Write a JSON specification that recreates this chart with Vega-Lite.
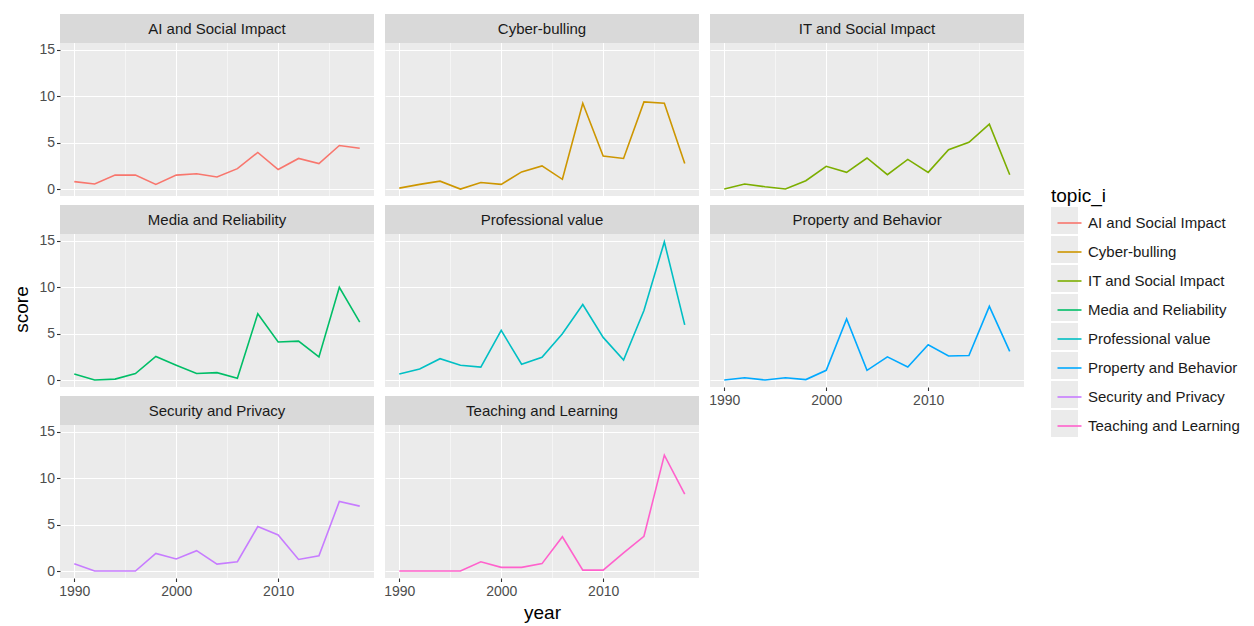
{
  "$schema": "https://vega.github.io/schema/vega-lite/v6.json",
  "background": "white",
  "padding": {"left": 12, "top": 14, "right": 0, "bottom": 0},
  "config": {
    "font": "Liberation Sans",
    "view": {"fill": "#EBEBEB", "stroke": null},
    "axis": {"domain": false, "tickColor": "#333333", "tickSize": 3.5, "tickWidth": 1.1, "labelColor": "#4D4D4D", "labelFontSize": 14, "labelFont": "Liberation Sans", "gridColor": "#FFFFFF", "titleFont": "Liberation Sans", "titleFontWeight": "normal", "titleFontSize": 19, "titleColor": "#000000", "labelPadding": 2},
    "axisX": {"labelPadding": 3}
  },
  "data": {"values": [
    {"topic": "AI and Social Impact", "year": 1990, "score": 0.8},
    {"topic": "AI and Social Impact", "year": 1992, "score": 0.55},
    {"topic": "AI and Social Impact", "year": 1994, "score": 1.5},
    {"topic": "AI and Social Impact", "year": 1996, "score": 1.5},
    {"topic": "AI and Social Impact", "year": 1998, "score": 0.5},
    {"topic": "AI and Social Impact", "year": 2000, "score": 1.5},
    {"topic": "AI and Social Impact", "year": 2002, "score": 1.65},
    {"topic": "AI and Social Impact", "year": 2004, "score": 1.3},
    {"topic": "AI and Social Impact", "year": 2006, "score": 2.2},
    {"topic": "AI and Social Impact", "year": 2008, "score": 3.95},
    {"topic": "AI and Social Impact", "year": 2010, "score": 2.1},
    {"topic": "AI and Social Impact", "year": 2012, "score": 3.3},
    {"topic": "AI and Social Impact", "year": 2014, "score": 2.75},
    {"topic": "AI and Social Impact", "year": 2016, "score": 4.7},
    {"topic": "AI and Social Impact", "year": 2018, "score": 4.4},
    {"topic": "Cyber-bulling", "year": 1990, "score": 0.1},
    {"topic": "Cyber-bulling", "year": 1992, "score": 0.5},
    {"topic": "Cyber-bulling", "year": 1994, "score": 0.85},
    {"topic": "Cyber-bulling", "year": 1996, "score": 0},
    {"topic": "Cyber-bulling", "year": 1998, "score": 0.7},
    {"topic": "Cyber-bulling", "year": 2000, "score": 0.5},
    {"topic": "Cyber-bulling", "year": 2002, "score": 1.85},
    {"topic": "Cyber-bulling", "year": 2004, "score": 2.5},
    {"topic": "Cyber-bulling", "year": 2006, "score": 1.05},
    {"topic": "Cyber-bulling", "year": 2008, "score": 9.25},
    {"topic": "Cyber-bulling", "year": 2010, "score": 3.55},
    {"topic": "Cyber-bulling", "year": 2012, "score": 3.3},
    {"topic": "Cyber-bulling", "year": 2014, "score": 9.4},
    {"topic": "Cyber-bulling", "year": 2016, "score": 9.25},
    {"topic": "Cyber-bulling", "year": 2018, "score": 2.75},
    {"topic": "IT and Social Impact", "year": 1990, "score": 0},
    {"topic": "IT and Social Impact", "year": 1992, "score": 0.55},
    {"topic": "IT and Social Impact", "year": 1994, "score": 0.25},
    {"topic": "IT and Social Impact", "year": 1996, "score": 0},
    {"topic": "IT and Social Impact", "year": 1998, "score": 0.9},
    {"topic": "IT and Social Impact", "year": 2000, "score": 2.45},
    {"topic": "IT and Social Impact", "year": 2002, "score": 1.8},
    {"topic": "IT and Social Impact", "year": 2004, "score": 3.35},
    {"topic": "IT and Social Impact", "year": 2006, "score": 1.55},
    {"topic": "IT and Social Impact", "year": 2008, "score": 3.2},
    {"topic": "IT and Social Impact", "year": 2010, "score": 1.8},
    {"topic": "IT and Social Impact", "year": 2012, "score": 4.25},
    {"topic": "IT and Social Impact", "year": 2014, "score": 5.05},
    {"topic": "IT and Social Impact", "year": 2016, "score": 7.0},
    {"topic": "IT and Social Impact", "year": 2018, "score": 1.55},
    {"topic": "Media and Reliability", "year": 1990, "score": 0.65},
    {"topic": "Media and Reliability", "year": 1992, "score": 0},
    {"topic": "Media and Reliability", "year": 1994, "score": 0.1},
    {"topic": "Media and Reliability", "year": 1996, "score": 0.7},
    {"topic": "Media and Reliability", "year": 1998, "score": 2.55},
    {"topic": "Media and Reliability", "year": 2000, "score": 1.6},
    {"topic": "Media and Reliability", "year": 2002, "score": 0.7},
    {"topic": "Media and Reliability", "year": 2004, "score": 0.8},
    {"topic": "Media and Reliability", "year": 2006, "score": 0.2},
    {"topic": "Media and Reliability", "year": 2008, "score": 7.15},
    {"topic": "Media and Reliability", "year": 2010, "score": 4.1},
    {"topic": "Media and Reliability", "year": 2012, "score": 4.2},
    {"topic": "Media and Reliability", "year": 2014, "score": 2.5},
    {"topic": "Media and Reliability", "year": 2016, "score": 10.0},
    {"topic": "Media and Reliability", "year": 2018, "score": 6.25},
    {"topic": "Professional value", "year": 1990, "score": 0.65},
    {"topic": "Professional value", "year": 1992, "score": 1.2},
    {"topic": "Professional value", "year": 1994, "score": 2.3},
    {"topic": "Professional value", "year": 1996, "score": 1.6},
    {"topic": "Professional value", "year": 1998, "score": 1.4},
    {"topic": "Professional value", "year": 2000, "score": 5.35},
    {"topic": "Professional value", "year": 2002, "score": 1.7},
    {"topic": "Professional value", "year": 2004, "score": 2.45},
    {"topic": "Professional value", "year": 2006, "score": 5.0},
    {"topic": "Professional value", "year": 2008, "score": 8.15},
    {"topic": "Professional value", "year": 2010, "score": 4.6},
    {"topic": "Professional value", "year": 2012, "score": 2.15},
    {"topic": "Professional value", "year": 2014, "score": 7.5},
    {"topic": "Professional value", "year": 2016, "score": 14.9},
    {"topic": "Professional value", "year": 2018, "score": 5.95},
    {"topic": "Property and Behavior", "year": 1990, "score": 0},
    {"topic": "Property and Behavior", "year": 1992, "score": 0.25},
    {"topic": "Property and Behavior", "year": 1994, "score": 0},
    {"topic": "Property and Behavior", "year": 1996, "score": 0.25},
    {"topic": "Property and Behavior", "year": 1998, "score": 0.05},
    {"topic": "Property and Behavior", "year": 2000, "score": 1.05},
    {"topic": "Property and Behavior", "year": 2002, "score": 6.6},
    {"topic": "Property and Behavior", "year": 2004, "score": 1.05},
    {"topic": "Property and Behavior", "year": 2006, "score": 2.5},
    {"topic": "Property and Behavior", "year": 2008, "score": 1.4},
    {"topic": "Property and Behavior", "year": 2010, "score": 3.8},
    {"topic": "Property and Behavior", "year": 2012, "score": 2.6},
    {"topic": "Property and Behavior", "year": 2014, "score": 2.65},
    {"topic": "Property and Behavior", "year": 2016, "score": 7.95},
    {"topic": "Property and Behavior", "year": 2018, "score": 3.1},
    {"topic": "Security and Privacy", "year": 1990, "score": 0.8},
    {"topic": "Security and Privacy", "year": 1992, "score": 0},
    {"topic": "Security and Privacy", "year": 1994, "score": 0},
    {"topic": "Security and Privacy", "year": 1996, "score": 0},
    {"topic": "Security and Privacy", "year": 1998, "score": 1.9},
    {"topic": "Security and Privacy", "year": 2000, "score": 1.3},
    {"topic": "Security and Privacy", "year": 2002, "score": 2.2},
    {"topic": "Security and Privacy", "year": 2004, "score": 0.75},
    {"topic": "Security and Privacy", "year": 2006, "score": 1.0},
    {"topic": "Security and Privacy", "year": 2008, "score": 4.8},
    {"topic": "Security and Privacy", "year": 2010, "score": 3.9},
    {"topic": "Security and Privacy", "year": 2012, "score": 1.25},
    {"topic": "Security and Privacy", "year": 2014, "score": 1.65},
    {"topic": "Security and Privacy", "year": 2016, "score": 7.5},
    {"topic": "Security and Privacy", "year": 2018, "score": 7.0},
    {"topic": "Teaching and Learning", "year": 1990, "score": 0},
    {"topic": "Teaching and Learning", "year": 1992, "score": 0},
    {"topic": "Teaching and Learning", "year": 1994, "score": 0},
    {"topic": "Teaching and Learning", "year": 1996, "score": 0},
    {"topic": "Teaching and Learning", "year": 1998, "score": 1.0},
    {"topic": "Teaching and Learning", "year": 2000, "score": 0.4},
    {"topic": "Teaching and Learning", "year": 2002, "score": 0.4},
    {"topic": "Teaching and Learning", "year": 2004, "score": 0.8},
    {"topic": "Teaching and Learning", "year": 2006, "score": 3.7},
    {"topic": "Teaching and Learning", "year": 2008, "score": 0.1},
    {"topic": "Teaching and Learning", "year": 2010, "score": 0.1},
    {"topic": "Teaching and Learning", "year": 2012, "score": 1.95},
    {"topic": "Teaching and Learning", "year": 2014, "score": 3.75},
    {"topic": "Teaching and Learning", "year": 2016, "score": 12.5},
    {"topic": "Teaching and Learning", "year": 2018, "score": 8.3}
  ]},
  "columns": 3,
  "spacing": {"row": 9, "column": 11},
  "bounds": "flush",
  "align": "all",
  "resolve": {"scale": {"color": "shared", "fill": "shared"}},
  "concat": [
    {
      "width": 314, "height": 182,
      "transform": [{"filter": "datum.topic === 'AI and Social Impact'"}],
      "layer": [
        {
          "transform": [{"filter": "false"}],
          "mark": {"type": "point", "filled": true, "opacity": 1},
          "encoding": {
            "fill": {"field": "topic", "type": "nominal",
              "scale": {"domain": ["AI and Social Impact", "Cyber-bulling", "IT and Social Impact", "Media and Reliability", "Professional value", "Property and Behavior", "Security and Privacy", "Teaching and Learning"], "range": ["#EBEBEB"]},
              "legend": {"title": "topic_i", "orient": "none", "legendX": 991, "legendY": 173, "zindex": 1,
                "titleFontSize": 19, "titleFontWeight": "normal", "titleColor": "#000000", "titlePadding": 1,
                "labelFontSize": 15, "labelExpr": "''", "labelOffset": 0,
                "symbolType": "square", "symbolSize": 729, "symbolStrokeWidth": 0, "symbolOpacity": 1, "rowPadding": 2}}
          }
        },
        {
          "mark": {"type": "line", "strokeWidth": 1.6},
          "encoding": {
            "x": {"field": "year", "type": "quantitative", "scale": {"domain": [1988.6, 2019.4], "nice": false, "zero": false},
              "axis": {"title": null, "labels": false, "ticks": false, "values": [1990, 1995, 2000, 2005, 2010, 2015],
                "gridWidth": {"condition": {"test": "datum.value % 10 === 0", "value": 1.1}, "value": 0.5}}},
            "y": {"field": "score", "type": "quantitative", "scale": {"domain": [-0.75, 18.88], "nice": false, "zero": false},
              "axis": {"title": null, "values": [0, 2.5, 5, 7.5, 10, 12.5, 15],
                "labelExpr": "datum.value % 5 === 0 ? datum.label : ''",
                "gridWidth": {"condition": {"test": "datum.value % 5 === 0", "value": 1.1}, "value": 0.5},
                "tickOpacity": {"condition": {"test": "datum.value % 5 === 0", "value": 1}, "value": 0}}},
            "color": {"field": "topic", "type": "nominal",
              "scale": {"range": ["#F8766D", "#CD9600", "#7CAE00", "#00BE67", "#00BFC4", "#00A9FF", "#C77CFF", "#FF61CC"]},
              "legend": {"title": " ", "orient": "none", "legendX": 996.5, "legendY": 173, "zindex": 2,
                "titleFontSize": 19, "titleFontWeight": "normal", "titleColor": "#000000", "titlePadding": 4,
                "labelFontSize": 15, "labelColor": "#1A1A1A", "labelOffset": 5.5,
                "symbolType": "stroke", "symbolStrokeWidth": 1.6, "symbolSize": 576, "rowPadding": 8}}
          }
        },
        {"transform": [{"filter": "datum.year == 1990"}], "mark": {"type": "rect", "fill": "#D9D9D9"},
          "encoding": {"x": {"datum": 1988.6}, "x2": {"datum": 2019.4}, "y": {"datum": 15.75}, "y2": {"datum": 18.88}}},
        {"transform": [{"filter": "datum.year == 1990"}], "mark": {"type": "text", "fontSize": 15, "color": "#1A1A1A", "baseline": "middle", "align": "center"},
          "encoding": {"x": {"datum": 2004}, "y": {"datum": 17.25}, "text": {"field": "topic"}}}
      ]
    },
    {
      "width": 314, "height": 182,
      "transform": [{"filter": "datum.topic === 'Cyber-bulling'"}],
      "layer": [
        {
          "mark": {"type": "line", "strokeWidth": 1.6},
          "encoding": {
            "x": {"field": "year", "type": "quantitative", "scale": {"domain": [1988.6, 2019.4], "nice": false, "zero": false},
              "axis": {"title": null, "labels": false, "ticks": false, "values": [1990, 1995, 2000, 2005, 2010, 2015],
                "gridWidth": {"condition": {"test": "datum.value % 10 === 0", "value": 1.1}, "value": 0.5}}},
            "y": {"field": "score", "type": "quantitative", "scale": {"domain": [-0.75, 18.88], "nice": false, "zero": false},
              "axis": {"title": null, "labels": false, "ticks": false, "values": [0, 2.5, 5, 7.5, 10, 12.5, 15],
                "gridWidth": {"condition": {"test": "datum.value % 5 === 0", "value": 1.1}, "value": 0.5}}},
            "color": {"field": "topic", "type": "nominal", "legend": null}
          }
        },
        {"transform": [{"filter": "datum.year == 1990"}], "mark": {"type": "rect", "fill": "#D9D9D9"},
          "encoding": {"x": {"datum": 1988.6}, "x2": {"datum": 2019.4}, "y": {"datum": 15.75}, "y2": {"datum": 18.88}}},
        {"transform": [{"filter": "datum.year == 1990"}], "mark": {"type": "text", "fontSize": 15, "color": "#1A1A1A", "baseline": "middle", "align": "center"},
          "encoding": {"x": {"datum": 2004}, "y": {"datum": 17.25}, "text": {"field": "topic"}}}
      ]
    },
    {
      "width": 314, "height": 182,
      "transform": [{"filter": "datum.topic === 'IT and Social Impact'"}],
      "layer": [
        {
          "mark": {"type": "line", "strokeWidth": 1.6},
          "encoding": {
            "x": {"field": "year", "type": "quantitative", "scale": {"domain": [1988.6, 2019.4], "nice": false, "zero": false},
              "axis": {"title": null, "labels": false, "ticks": false, "values": [1990, 1995, 2000, 2005, 2010, 2015],
                "gridWidth": {"condition": {"test": "datum.value % 10 === 0", "value": 1.1}, "value": 0.5}}},
            "y": {"field": "score", "type": "quantitative", "scale": {"domain": [-0.75, 18.88], "nice": false, "zero": false},
              "axis": {"title": null, "labels": false, "ticks": false, "values": [0, 2.5, 5, 7.5, 10, 12.5, 15],
                "gridWidth": {"condition": {"test": "datum.value % 5 === 0", "value": 1.1}, "value": 0.5}}},
            "color": {"field": "topic", "type": "nominal", "legend": null}
          }
        },
        {"transform": [{"filter": "datum.year == 1990"}], "mark": {"type": "rect", "fill": "#D9D9D9"},
          "encoding": {"x": {"datum": 1988.6}, "x2": {"datum": 2019.4}, "y": {"datum": 15.75}, "y2": {"datum": 18.88}}},
        {"transform": [{"filter": "datum.year == 1990"}], "mark": {"type": "text", "fontSize": 15, "color": "#1A1A1A", "baseline": "middle", "align": "center"},
          "encoding": {"x": {"datum": 2004}, "y": {"datum": 17.25}, "text": {"field": "topic"}}}
      ]
    },
    {
      "width": 314, "height": 182,
      "transform": [{"filter": "datum.topic === 'Media and Reliability'"}],
      "layer": [
        {
          "mark": {"type": "line", "strokeWidth": 1.6},
          "encoding": {
            "x": {"field": "year", "type": "quantitative", "scale": {"domain": [1988.6, 2019.4], "nice": false, "zero": false},
              "axis": {"title": null, "labels": false, "ticks": false, "values": [1990, 1995, 2000, 2005, 2010, 2015],
                "gridWidth": {"condition": {"test": "datum.value % 10 === 0", "value": 1.1}, "value": 0.5}}},
            "y": {"field": "score", "type": "quantitative", "scale": {"domain": [-0.75, 18.88], "nice": false, "zero": false},
              "axis": {"title": "score", "titleY": 104, "titlePadding": 7, "values": [0, 2.5, 5, 7.5, 10, 12.5, 15],
                "labelExpr": "datum.value % 5 === 0 ? datum.label : ''",
                "gridWidth": {"condition": {"test": "datum.value % 5 === 0", "value": 1.1}, "value": 0.5},
                "tickOpacity": {"condition": {"test": "datum.value % 5 === 0", "value": 1}, "value": 0}}},
            "color": {"field": "topic", "type": "nominal", "legend": null}
          }
        },
        {"transform": [{"filter": "datum.year == 1990"}], "mark": {"type": "rect", "fill": "#D9D9D9"},
          "encoding": {"x": {"datum": 1988.6}, "x2": {"datum": 2019.4}, "y": {"datum": 15.75}, "y2": {"datum": 18.88}}},
        {"transform": [{"filter": "datum.year == 1990"}], "mark": {"type": "text", "fontSize": 15, "color": "#1A1A1A", "baseline": "middle", "align": "center"},
          "encoding": {"x": {"datum": 2004}, "y": {"datum": 17.25}, "text": {"field": "topic"}}}
      ]
    },
    {
      "width": 314, "height": 182,
      "transform": [{"filter": "datum.topic === 'Professional value'"}],
      "layer": [
        {
          "mark": {"type": "line", "strokeWidth": 1.6},
          "encoding": {
            "x": {"field": "year", "type": "quantitative", "scale": {"domain": [1988.6, 2019.4], "nice": false, "zero": false},
              "axis": {"title": null, "labels": false, "ticks": false, "values": [1990, 1995, 2000, 2005, 2010, 2015],
                "gridWidth": {"condition": {"test": "datum.value % 10 === 0", "value": 1.1}, "value": 0.5}}},
            "y": {"field": "score", "type": "quantitative", "scale": {"domain": [-0.75, 18.88], "nice": false, "zero": false},
              "axis": {"title": null, "labels": false, "ticks": false, "values": [0, 2.5, 5, 7.5, 10, 12.5, 15],
                "gridWidth": {"condition": {"test": "datum.value % 5 === 0", "value": 1.1}, "value": 0.5}}},
            "color": {"field": "topic", "type": "nominal", "legend": null}
          }
        },
        {"transform": [{"filter": "datum.year == 1990"}], "mark": {"type": "rect", "fill": "#D9D9D9"},
          "encoding": {"x": {"datum": 1988.6}, "x2": {"datum": 2019.4}, "y": {"datum": 15.75}, "y2": {"datum": 18.88}}},
        {"transform": [{"filter": "datum.year == 1990"}], "mark": {"type": "text", "fontSize": 15, "color": "#1A1A1A", "baseline": "middle", "align": "center"},
          "encoding": {"x": {"datum": 2004}, "y": {"datum": 17.25}, "text": {"field": "topic"}}}
      ]
    },
    {
      "width": 314, "height": 182,
      "transform": [{"filter": "datum.topic === 'Property and Behavior'"}],
      "layer": [
        {
          "mark": {"type": "line", "strokeWidth": 1.6},
          "encoding": {
            "x": {"field": "year", "type": "quantitative", "scale": {"domain": [1988.6, 2019.4], "nice": false, "zero": false},
              "axis": {"title": null, "values": [1990, 1995, 2000, 2005, 2010, 2015], "format": "d",
                "labelExpr": "datum.value % 10 === 0 ? datum.label : ''",
                "gridWidth": {"condition": {"test": "datum.value % 10 === 0", "value": 1.1}, "value": 0.5},
                "tickOpacity": {"condition": {"test": "datum.value % 10 === 0", "value": 1}, "value": 0}}},
            "y": {"field": "score", "type": "quantitative", "scale": {"domain": [-0.75, 18.88], "nice": false, "zero": false},
              "axis": {"title": null, "labels": false, "ticks": false, "values": [0, 2.5, 5, 7.5, 10, 12.5, 15],
                "gridWidth": {"condition": {"test": "datum.value % 5 === 0", "value": 1.1}, "value": 0.5}}},
            "color": {"field": "topic", "type": "nominal", "legend": null}
          }
        },
        {"transform": [{"filter": "datum.year == 1990"}], "mark": {"type": "rect", "fill": "#D9D9D9"},
          "encoding": {"x": {"datum": 1988.6}, "x2": {"datum": 2019.4}, "y": {"datum": 15.75}, "y2": {"datum": 18.88}}},
        {"transform": [{"filter": "datum.year == 1990"}], "mark": {"type": "text", "fontSize": 15, "color": "#1A1A1A", "baseline": "middle", "align": "center"},
          "encoding": {"x": {"datum": 2004}, "y": {"datum": 17.25}, "text": {"field": "topic"}}}
      ]
    },
    {
      "width": 314, "height": 182,
      "transform": [{"filter": "datum.topic === 'Security and Privacy'"}],
      "layer": [
        {
          "mark": {"type": "line", "strokeWidth": 1.6},
          "encoding": {
            "x": {"field": "year", "type": "quantitative", "scale": {"domain": [1988.6, 2019.4], "nice": false, "zero": false},
              "axis": {"title": null, "values": [1990, 1995, 2000, 2005, 2010, 2015], "format": "d",
                "labelExpr": "datum.value % 10 === 0 ? datum.label : ''",
                "gridWidth": {"condition": {"test": "datum.value % 10 === 0", "value": 1.1}, "value": 0.5},
                "tickOpacity": {"condition": {"test": "datum.value % 10 === 0", "value": 1}, "value": 0}}},
            "y": {"field": "score", "type": "quantitative", "scale": {"domain": [-0.75, 18.88], "nice": false, "zero": false},
              "axis": {"title": null, "values": [0, 2.5, 5, 7.5, 10, 12.5, 15],
                "labelExpr": "datum.value % 5 === 0 ? datum.label : ''",
                "gridWidth": {"condition": {"test": "datum.value % 5 === 0", "value": 1.1}, "value": 0.5},
                "tickOpacity": {"condition": {"test": "datum.value % 5 === 0", "value": 1}, "value": 0}}},
            "color": {"field": "topic", "type": "nominal", "legend": null}
          }
        },
        {"transform": [{"filter": "datum.year == 1990"}], "mark": {"type": "rect", "fill": "#D9D9D9"},
          "encoding": {"x": {"datum": 1988.6}, "x2": {"datum": 2019.4}, "y": {"datum": 15.75}, "y2": {"datum": 18.88}}},
        {"transform": [{"filter": "datum.year == 1990"}], "mark": {"type": "text", "fontSize": 15, "color": "#1A1A1A", "baseline": "middle", "align": "center"},
          "encoding": {"x": {"datum": 2004}, "y": {"datum": 17.25}, "text": {"field": "topic"}}}
      ]
    },
    {
      "width": 314, "height": 182,
      "transform": [{"filter": "datum.topic === 'Teaching and Learning'"}],
      "layer": [
        {
          "mark": {"type": "line", "strokeWidth": 1.6},
          "encoding": {
            "x": {"field": "year", "type": "quantitative", "scale": {"domain": [1988.6, 2019.4], "nice": false, "zero": false},
              "axis": {"title": "year", "titlePadding": 5, "values": [1990, 1995, 2000, 2005, 2010, 2015], "format": "d",
                "labelExpr": "datum.value % 10 === 0 ? datum.label : ''",
                "gridWidth": {"condition": {"test": "datum.value % 10 === 0", "value": 1.1}, "value": 0.5},
                "tickOpacity": {"condition": {"test": "datum.value % 10 === 0", "value": 1}, "value": 0}}},
            "y": {"field": "score", "type": "quantitative", "scale": {"domain": [-0.75, 18.88], "nice": false, "zero": false},
              "axis": {"title": null, "labels": false, "ticks": false, "values": [0, 2.5, 5, 7.5, 10, 12.5, 15],
                "gridWidth": {"condition": {"test": "datum.value % 5 === 0", "value": 1.1}, "value": 0.5}}},
            "color": {"field": "topic", "type": "nominal", "legend": null}
          }
        },
        {"transform": [{"filter": "datum.year == 1990"}], "mark": {"type": "rect", "fill": "#D9D9D9"},
          "encoding": {"x": {"datum": 1988.6}, "x2": {"datum": 2019.4}, "y": {"datum": 15.75}, "y2": {"datum": 18.88}}},
        {"transform": [{"filter": "datum.year == 1990"}], "mark": {"type": "text", "fontSize": 15, "color": "#1A1A1A", "baseline": "middle", "align": "center"},
          "encoding": {"x": {"datum": 2004}, "y": {"datum": 17.25}, "text": {"field": "topic"}}}
      ]
    }
  ]
}
